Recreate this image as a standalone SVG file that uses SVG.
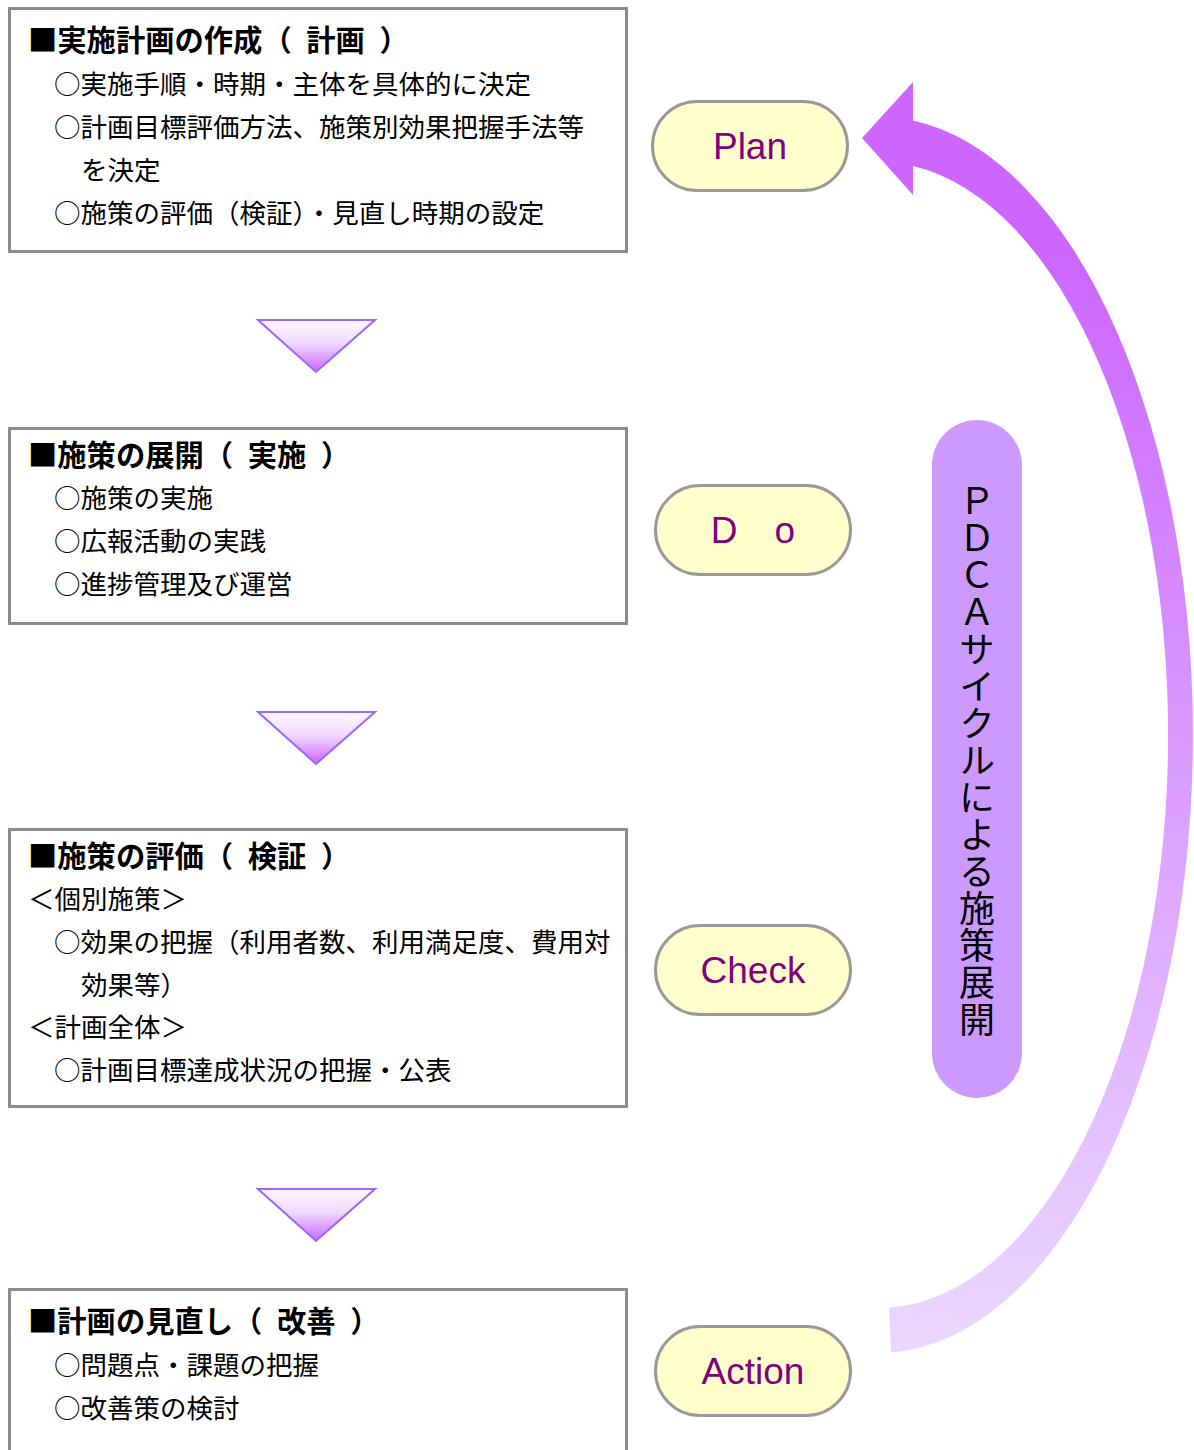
<svg xmlns="http://www.w3.org/2000/svg" width="1194" height="1450" viewBox="0 0 1194 1450">
<defs>
  <linearGradient id="triGrad" x1="0" y1="0" x2="0" y2="1">
    <stop offset="0" stop-color="#FFF8FF"/>
    <stop offset="0.45" stop-color="#F0D8FF"/>
    <stop offset="1" stop-color="#CC66FF"/>
  </linearGradient>
  <linearGradient id="arcGrad" gradientUnits="userSpaceOnUse" x1="0" y1="250" x2="0" y2="1340">
    <stop offset="0" stop-color="#CC66FF"/>
    <stop offset="1" stop-color="#EAD7FF"/>
  </linearGradient>
</defs>
<style>
  .box{fill:#FFFFFF;stroke:#8C8C8C;stroke-width:3}
  .title{font-family:"Noto Sans CJK JP","Noto Sans CJK SC",sans-serif;font-size:29.3px;font-weight:bold;fill:#000000}
  .body{font-family:"Noto Sans CJK JP","Noto Sans CJK SC",sans-serif;font-size:26.5px;fill:#000000}
  .pill{fill:#FFFFCC;stroke:#999999;stroke-width:3}
  .pilltxt{font-family:"Liberation Sans","Noto Sans CJK JP",sans-serif;font-size:37px;fill:#800080;text-anchor:middle}
  .tri{fill:url(#triGrad);stroke:#9966FF;stroke-width:2}
  .bar{fill:#CC99FF}
  .vtxt{font-family:"Noto Sans CJK JP","Noto Sans CJK SC",sans-serif;font-size:36px;fill:#000000;writing-mode:vertical-rl;letter-spacing:1px}
</style>
<rect width="1194" height="1450" fill="#FFFFFF"/>

<g id="connectors">
  <polygon class="tri" points="258,320 375,320 316,372"/>
  <polygon class="tri" points="258,712 375,712 316,764"/>
  <polygon class="tri" points="258,1189 375,1189 316,1241"/>
  <path id="cycle-arrow" fill="url(#arcGrad)" d="M913,120.6 A314,618 0 0 1 891,1352.5 L889,1307.7 A289,573 0 0 0 913,166 L913,195 L862,138 L913,82 Z"/>
</g>

<g id="box-plan">
  <rect class="box" x="9.5" y="8.5" width="617" height="243"/>
  <text class="title" x="28" y="51" word-spacing="8">■実施計画の作成（ 計画 ）</text>
  <text class="body" x="54" y="94">○実施手順・時期・主体を具体的に決定</text>
  <text class="body" x="54" y="137">○計画目標評価方法、施策別効果把握手法等</text>
  <text class="body" x="81" y="180">を決定</text>
  <text class="body" x="54" y="223">○施策の評価（検証）・見直し時期の設定</text>
</g>

<g id="box-do">
  <rect class="box" x="9.5" y="428.5" width="617" height="195"/>
  <text class="title" x="28" y="466" word-spacing="8">■施策の展開（ 実施 ）</text>
  <text class="body" x="54" y="508">○施策の実施</text>
  <text class="body" x="54" y="551">○広報活動の実践</text>
  <text class="body" x="54" y="594">○進捗管理及び運営</text>
</g>

<g id="box-check">
  <rect class="box" x="9.5" y="829.5" width="617" height="277"/>
  <text class="title" x="28" y="867" word-spacing="8">■施策の評価（ 検証 ）</text>
  <text class="body" x="28" y="909">＜個別施策＞</text>
  <text class="body" x="54" y="952">○効果の把握（利用者数、利用満足度、費用対</text>
  <text class="body" x="81" y="995">効果等）</text>
  <text class="body" x="28" y="1037">＜計画全体＞</text>
  <text class="body" x="54" y="1080">○計画目標達成状況の把握・公表</text>
</g>

<g id="box-action">
  <rect class="box" x="9.5" y="1289.5" width="617" height="180"/>
  <text class="title" x="28" y="1332" word-spacing="8">■計画の見直し（ 改善 ）</text>
  <text class="body" x="54" y="1375">○問題点・課題の把握</text>
  <text class="body" x="54" y="1418">○改善策の検討</text>
</g>

<g id="pill-plan">
  <rect class="pill" x="652.5" y="101.5" width="195" height="89" rx="44.5"/>
  <text class="pilltxt" x="750" y="159">Plan</text>
</g>
<g id="pill-do">
  <rect class="pill" x="655.5" y="485.5" width="195" height="89" rx="44.5"/>
  <text class="pilltxt" x="753" y="543">D　o</text>
</g>
<g id="pill-check">
  <rect class="pill" x="655.5" y="925.5" width="195" height="89" rx="44.5"/>
  <text class="pilltxt" x="753" y="983">Check</text>
</g>
<g id="pill-action">
  <rect class="pill" x="655.5" y="1326.5" width="195" height="89" rx="44.5"/>
  <text class="pilltxt" x="753" y="1384">Action</text>
</g>

<g id="pdca-bar">
  <rect class="bar" x="932" y="420" width="90" height="678" rx="45"/>
  <text class="vtxt" x="977" y="483">ＰＤＣＡサイクルによる施策展開</text>
</g>
</svg>
